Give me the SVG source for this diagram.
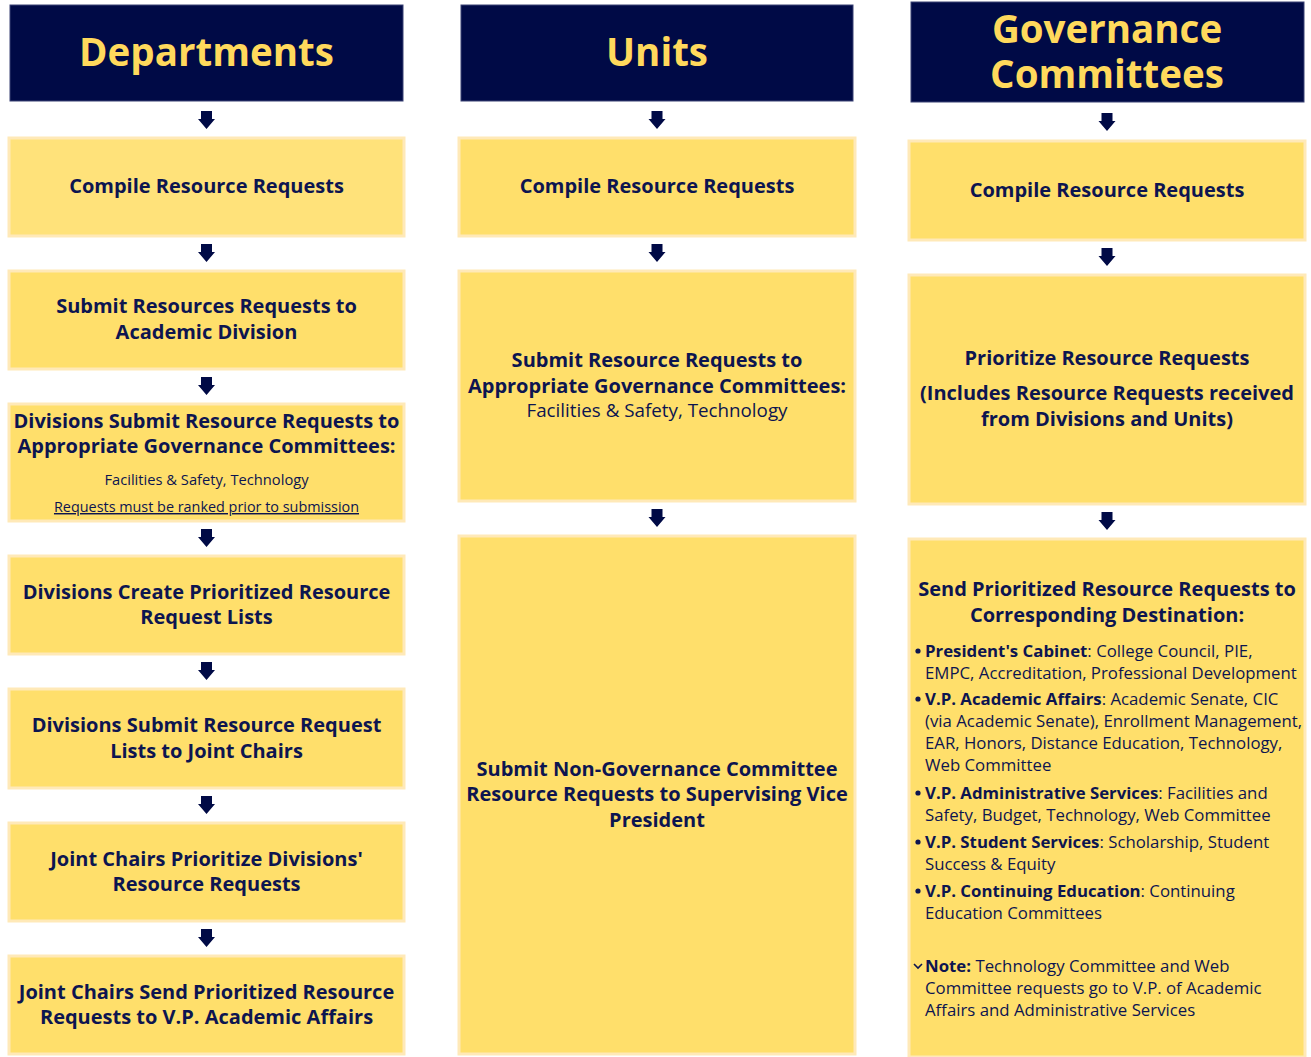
<svg xmlns="http://www.w3.org/2000/svg" width="1311" height="1057" viewBox="0 0 1311 1057">
<defs>
<style>
.hdr{fill:#000A46;stroke:#3A4275;stroke-width:1}
.box{fill:#FFDF6B;stroke:#FFE9B8;stroke-width:3}
.ht{font-family:"Open Sans","Noto Sans",sans-serif;font-weight:700;font-size:38.5px;fill:#FFD95C;text-anchor:middle}
.bt{font-family:"Open Sans","Noto Sans",sans-serif;font-weight:700;font-size:20px;fill:#0D1550;text-anchor:middle}
.nt{font-family:"Open Sans","Noto Sans",sans-serif;font-weight:400;fill:#0D1550}
.lt{font-family:"Open Sans","Noto Sans",sans-serif;font-size:16.8px;fill:#0D1550}
.b{font-weight:700}
.arr{fill:#000A46}
</style>
<path id="ar" d="M-5.5,0 H5.5 V8 H8.5 L0,18 L-8.5,8 H-5.5 Z"/>
</defs>

<g id="connectors" class="arr">
<use href="#ar" x="206.5" y="111"/>
<use href="#ar" x="206.5" y="244"/>
<use href="#ar" x="206.5" y="377"/>
<use href="#ar" x="206.5" y="529"/>
<use href="#ar" x="206.5" y="662"/>
<use href="#ar" x="206.5" y="796"/>
<use href="#ar" x="206.5" y="929"/>
<use href="#ar" x="657" y="111"/>
<use href="#ar" x="657" y="244"/>
<use href="#ar" x="657" y="509"/>
<use href="#ar" x="1107" y="113"/>
<use href="#ar" x="1107" y="248"/>
<use href="#ar" x="1107" y="512"/>
</g>

<g id="hdr-departments">
<rect class="hdr" x="10" y="5" width="393" height="96"/>
<text class="ht" x="206.5" y="66">Departments</text>
</g>
<g id="hdr-units">
<rect class="hdr" x="461" y="5" width="392" height="96"/>
<text class="ht" x="657" y="66">Units</text>
</g>
<g id="hdr-governance">
<rect class="hdr" x="911" y="2" width="393" height="100"/>
<text class="ht" x="1107" y="43">Governance</text>
<text class="ht" x="1107" y="88">Committees</text>
</g>

<g id="d1">
<rect class="box" x="9" y="138" width="395" height="98" style="fill:#FFE27A"/>
<text class="bt" x="206.5" y="193">Compile Resource Requests</text>
</g>
<g id="d2">
<rect class="box" x="9" y="271" width="395" height="98"/>
<text class="bt" x="206.5" y="313">Submit Resources Requests to</text>
<text class="bt" x="206.5" y="339">Academic Division</text>
</g>
<g id="d3">
<rect class="box" x="9" y="404" width="395" height="117"/>
<text class="bt" x="206.5" y="428">Divisions Submit Resource Requests to</text>
<text class="bt" x="206.5" y="453">Appropriate Governance Committees:</text>
<text class="nt" x="206.5" y="485" font-size="14.7" text-anchor="middle">Facilities &amp; Safety, Technology</text>
<text class="nt" x="206.5" y="512" font-size="14.4" text-anchor="middle" text-decoration="underline">Requests must be ranked prior to submission</text>
</g>
<g id="d4">
<rect class="box" x="9" y="556" width="395" height="98"/>
<text class="bt" x="206.5" y="599">Divisions Create Prioritized Resource</text>
<text class="bt" x="206.5" y="624">Request Lists</text>
</g>
<g id="d5">
<rect class="box" x="9" y="689" width="395" height="99"/>
<text class="bt" x="206.5" y="732">Divisions Submit Resource Request</text>
<text class="bt" x="206.5" y="758">Lists to Joint Chairs</text>
</g>
<g id="d6">
<rect class="box" x="9" y="823" width="395" height="98"/>
<text class="bt" x="206.5" y="866">Joint Chairs Prioritize Divisions'</text>
<text class="bt" x="206.5" y="891">Resource Requests</text>
</g>
<g id="d7">
<rect class="box" x="9" y="956" width="395" height="98"/>
<text class="bt" x="206.5" y="999">Joint Chairs Send Prioritized Resource</text>
<text class="bt" x="206.5" y="1024">Requests to V.P. Academic Affairs</text>
</g>

<g id="u1">
<rect class="box" x="459" y="138" width="396" height="98"/>
<text class="bt" x="657" y="193">Compile Resource Requests</text>
</g>
<g id="u2">
<rect class="box" x="459" y="271" width="396" height="230"/>
<text class="bt" x="657" y="367">Submit Resource Requests to</text>
<text class="bt" x="657" y="393">Appropriate Governance Committees:</text>
<text class="nt" x="657" y="417" font-size="18.8" text-anchor="middle">Facilities &amp; Safety, Technology</text>
</g>
<g id="u3">
<rect class="box" x="459" y="536" width="396" height="518"/>
<text class="bt" x="657" y="776">Submit Non-Governance Committee</text>
<text class="bt" x="657" y="801">Resource Requests to Supervising Vice</text>
<text class="bt" x="657" y="827">President</text>
</g>

<g id="g1">
<rect class="box" x="909" y="141" width="396" height="99"/>
<text class="bt" x="1107" y="197">Compile Resource Requests</text>
</g>
<g id="g2">
<rect class="box" x="909" y="275" width="396" height="229"/>
<text class="bt" x="1107" y="365">Prioritize Resource Requests</text>
<text class="bt" x="1107" y="400">(Includes Resource Requests received</text>
<text class="bt" x="1107" y="426">from Divisions and Units)</text>
</g>
<g id="g3">
<rect class="box" x="909" y="539" width="396" height="518"/>
<text class="bt" x="1107" y="596">Send Prioritized Resource Requests to</text>
<text class="bt" x="1107" y="622">Corresponding Destination:</text>
<g class="lt">
<circle cx="918" cy="651" r="2.6" fill="#0D1550"/>
<text x="925" y="657"><tspan class="b">President's Cabinet</tspan>: College Council, PIE,</text>
<text x="925" y="679">EMPC, Accreditation, Professional Development</text>
<circle cx="918" cy="699" r="2.6" fill="#0D1550"/>
<text x="925" y="705"><tspan class="b">V.P. Academic Affairs</tspan>: Academic Senate, CIC</text>
<text x="925" y="727">(via Academic Senate), Enrollment Management,</text>
<text x="925" y="749">EAR, Honors, Distance Education, Technology,</text>
<text x="925" y="771">Web Committee</text>
<circle cx="918" cy="793" r="2.6" fill="#0D1550"/>
<text x="925" y="799"><tspan class="b">V.P. Administrative Services</tspan>: Facilities and</text>
<text x="925" y="821">Safety, Budget, Technology, Web Committee</text>
<circle cx="918" cy="842" r="2.6" fill="#0D1550"/>
<text x="925" y="848"><tspan class="b">V.P. Student Services</tspan>: Scholarship, Student</text>
<text x="925" y="870">Success &amp; Equity</text>
<circle cx="918" cy="891" r="2.6" fill="#0D1550"/>
<text x="925" y="897"><tspan class="b">V.P. Continuing Education</tspan>: Continuing</text>
<text x="925" y="919">Education Committees</text>
<path d="M914,964 L918,968 L922,964" fill="none" stroke="#0D1550" stroke-width="1.6"/>
<text x="925" y="972"><tspan class="b">Note:</tspan> Technology Committee and Web</text>
<text x="925" y="994">Committee requests go to V.P. of Academic</text>
<text x="925" y="1016">Affairs and Administrative Services</text>
</g>
</g>
</svg>
